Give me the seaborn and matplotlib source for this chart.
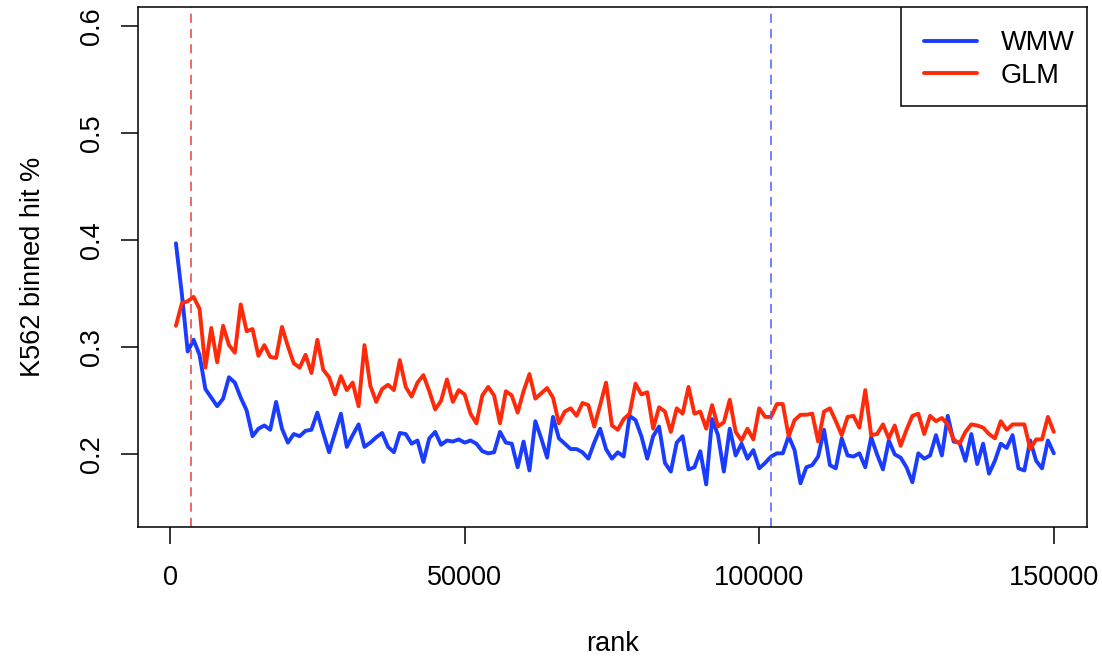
import numpy as np
import pandas as pd
import matplotlib
matplotlib.use("Agg")
import matplotlib.pyplot as plt
from matplotlib.lines import Line2D
from matplotlib.patches import Rectangle
import seaborn as sns

# Binned hit rate per 1000-rank bin, ranks 1000..150000
bin_size = 1000
n_bins = 150

wmw = [
    0.397, 0.350, 0.296, 0.307, 0.293, 0.261, 0.253, 0.245, 0.252, 0.272,
    0.267, 0.253, 0.241, 0.217, 0.224, 0.227, 0.223, 0.249, 0.224, 0.211,
    0.219, 0.217, 0.222, 0.223, 0.239, 0.220, 0.202, 0.220, 0.238, 0.207,
    0.218, 0.228, 0.207, 0.211, 0.216, 0.220, 0.207, 0.202, 0.220, 0.219,
    0.210, 0.213, 0.193, 0.215, 0.221, 0.209, 0.213, 0.212, 0.214, 0.211,
    0.213, 0.210, 0.203, 0.201, 0.202, 0.221, 0.211, 0.210, 0.188, 0.212,
    0.185, 0.231, 0.215, 0.197, 0.235, 0.215, 0.210, 0.205, 0.205, 0.202,
    0.196, 0.211, 0.224, 0.205, 0.196, 0.202, 0.198, 0.236, 0.232, 0.217,
    0.196, 0.217, 0.226, 0.192, 0.184, 0.211, 0.217, 0.186, 0.188, 0.203,
    0.172, 0.233, 0.218, 0.184, 0.224, 0.199, 0.210, 0.196, 0.204, 0.187,
    0.192, 0.198, 0.201, 0.201, 0.217, 0.204, 0.173, 0.188, 0.190, 0.198,
    0.223, 0.190, 0.187, 0.215, 0.199, 0.198, 0.201, 0.188, 0.216, 0.200,
    0.186, 0.213, 0.200, 0.197, 0.188, 0.174, 0.201, 0.196, 0.199, 0.218,
    0.199, 0.236, 0.212, 0.211, 0.194, 0.219, 0.191, 0.210, 0.182, 0.194,
    0.210, 0.206, 0.218, 0.187, 0.185, 0.213, 0.194, 0.187, 0.213, 0.201,
]

glm = [
    0.320, 0.341, 0.343, 0.347, 0.336, 0.281, 0.318, 0.286, 0.320, 0.302,
    0.295, 0.340, 0.315, 0.317, 0.292, 0.302, 0.291, 0.290, 0.319, 0.301,
    0.285, 0.281, 0.293, 0.276, 0.307, 0.279, 0.272, 0.256, 0.273, 0.260,
    0.267, 0.245, 0.302, 0.264, 0.249, 0.261, 0.265, 0.260, 0.288, 0.263,
    0.254, 0.267, 0.274, 0.259, 0.242, 0.250, 0.270, 0.249, 0.260, 0.256,
    0.238, 0.229, 0.255, 0.263, 0.255, 0.229, 0.259, 0.255, 0.239, 0.259,
    0.275, 0.252, 0.257, 0.262, 0.253, 0.229, 0.240, 0.243, 0.236, 0.248,
    0.246, 0.226, 0.246, 0.267, 0.227, 0.223, 0.233, 0.238, 0.266, 0.256,
    0.258, 0.224, 0.244, 0.240, 0.221, 0.243, 0.238, 0.263, 0.238, 0.240,
    0.224, 0.246, 0.226, 0.230, 0.251, 0.221, 0.213, 0.224, 0.214, 0.243,
    0.235, 0.235, 0.247, 0.247, 0.217, 0.232, 0.237, 0.237, 0.238, 0.212,
    0.240, 0.243, 0.231, 0.218, 0.235, 0.236, 0.225, 0.260, 0.218, 0.219,
    0.228, 0.215, 0.227, 0.208, 0.223, 0.236, 0.238, 0.219, 0.236, 0.231,
    0.234, 0.228, 0.214, 0.210, 0.221, 0.228, 0.227, 0.225, 0.219, 0.215,
    0.231, 0.223, 0.228, 0.228, 0.228, 0.205, 0.214, 0.214, 0.235, 0.221,
]

methods = ["WMW", "GLM"]
colors = {"WMW": "#1a3cff", "GLM": "#ff2a0a"}

# Rank cutoffs marked with dashed lines
cutoff_glm = 3600
cutoff_wmw = 102000

x_ticks = [0, 50000, 100000, 150000]
y_ticks = [0.2, 0.3, 0.4, 0.5, 0.6]

ranks = np.arange(1, n_bins + 1) * bin_size
df = pd.DataFrame({
    "rank": np.concatenate([ranks, ranks]),
    "hit": np.concatenate([wmw, glm]),
    "method": ["WMW"] * n_bins + ["GLM"] * n_bins,
})

sns.set_style("white")
plt.rcParams["font.family"] = ["Liberation Sans", "DejaVu Sans"]
for key in ["text.color", "axes.labelcolor", "xtick.color", "ytick.color"]:
    plt.rcParams[key] = "black"

FS = 19.5

fig = plt.figure(figsize=(11.02, 6.59), dpi=100)
ax = fig.add_axes([0.1250, 0.1999, 0.9861 - 0.1250, 0.9901 - 0.1999])

sns.lineplot(data=df, x="rank", y="hit", hue="method", hue_order=methods,
             palette=colors, linewidth=2.8, ax=ax, legend=False)
for ln in ax.get_lines():
    ln.set_solid_joinstyle("round")
    ln.set_solid_capstyle("round")

ax.axvline(cutoff_glm, color="#e84040", linestyle=(0, (6, 4)), linewidth=1.1)
ax.axvline(cutoff_wmw, color="#4a62ff", linestyle=(0, (6, 4)), linewidth=1.1)

ax.set_xlim(-5480, 155580)
ax.set_ylim(0.15 - 0.04 * 0.45, 0.6 + 0.04 * 0.45)

ax.set_xticks(x_ticks)
ax.set_xticklabels([str(t) for t in x_ticks])
ax.set_yticks(y_ticks)
ax.set_yticklabels([f"{t:.1f}" for t in y_ticks], rotation=90, va="center")
ax.tick_params(axis="both", direction="out", length=12.2, width=1.1,
               labelsize=FS, color="black", left=True, bottom=True)
ax.tick_params(axis="x", pad=15)
ax.tick_params(axis="y", pad=11.5)

for s in ax.spines.values():
    s.set_visible(True)
    s.set_color("black")
    s.set_linewidth(1.1)

ax.set_xlabel("rank", fontsize=FS, labelpad=29)
ax.set_ylabel("K562 binned hit %", fontsize=FS, labelpad=23.5)

# Legend box in the top-right corner of the plotting region
ax.add_patch(Rectangle((0.8040, 0.8090), 0.1960, 0.1910,
                       transform=ax.transAxes, facecolor="white",
                       edgecolor="black", linewidth=1.1, zorder=4))
handles = [Line2D([], [], color=colors[m], linewidth=2.8) for m in methods]
leg = ax.legend(handles, methods, loc="upper left",
                bbox_to_anchor=(0.8289, 0.9547), fontsize=FS,
                frameon=False, handlelength=1.935, handletextpad=0.886,
                borderpad=0, labelspacing=0.24, borderaxespad=0)
leg.set_zorder(5)

fig.savefig("out.png", dpi=100)
